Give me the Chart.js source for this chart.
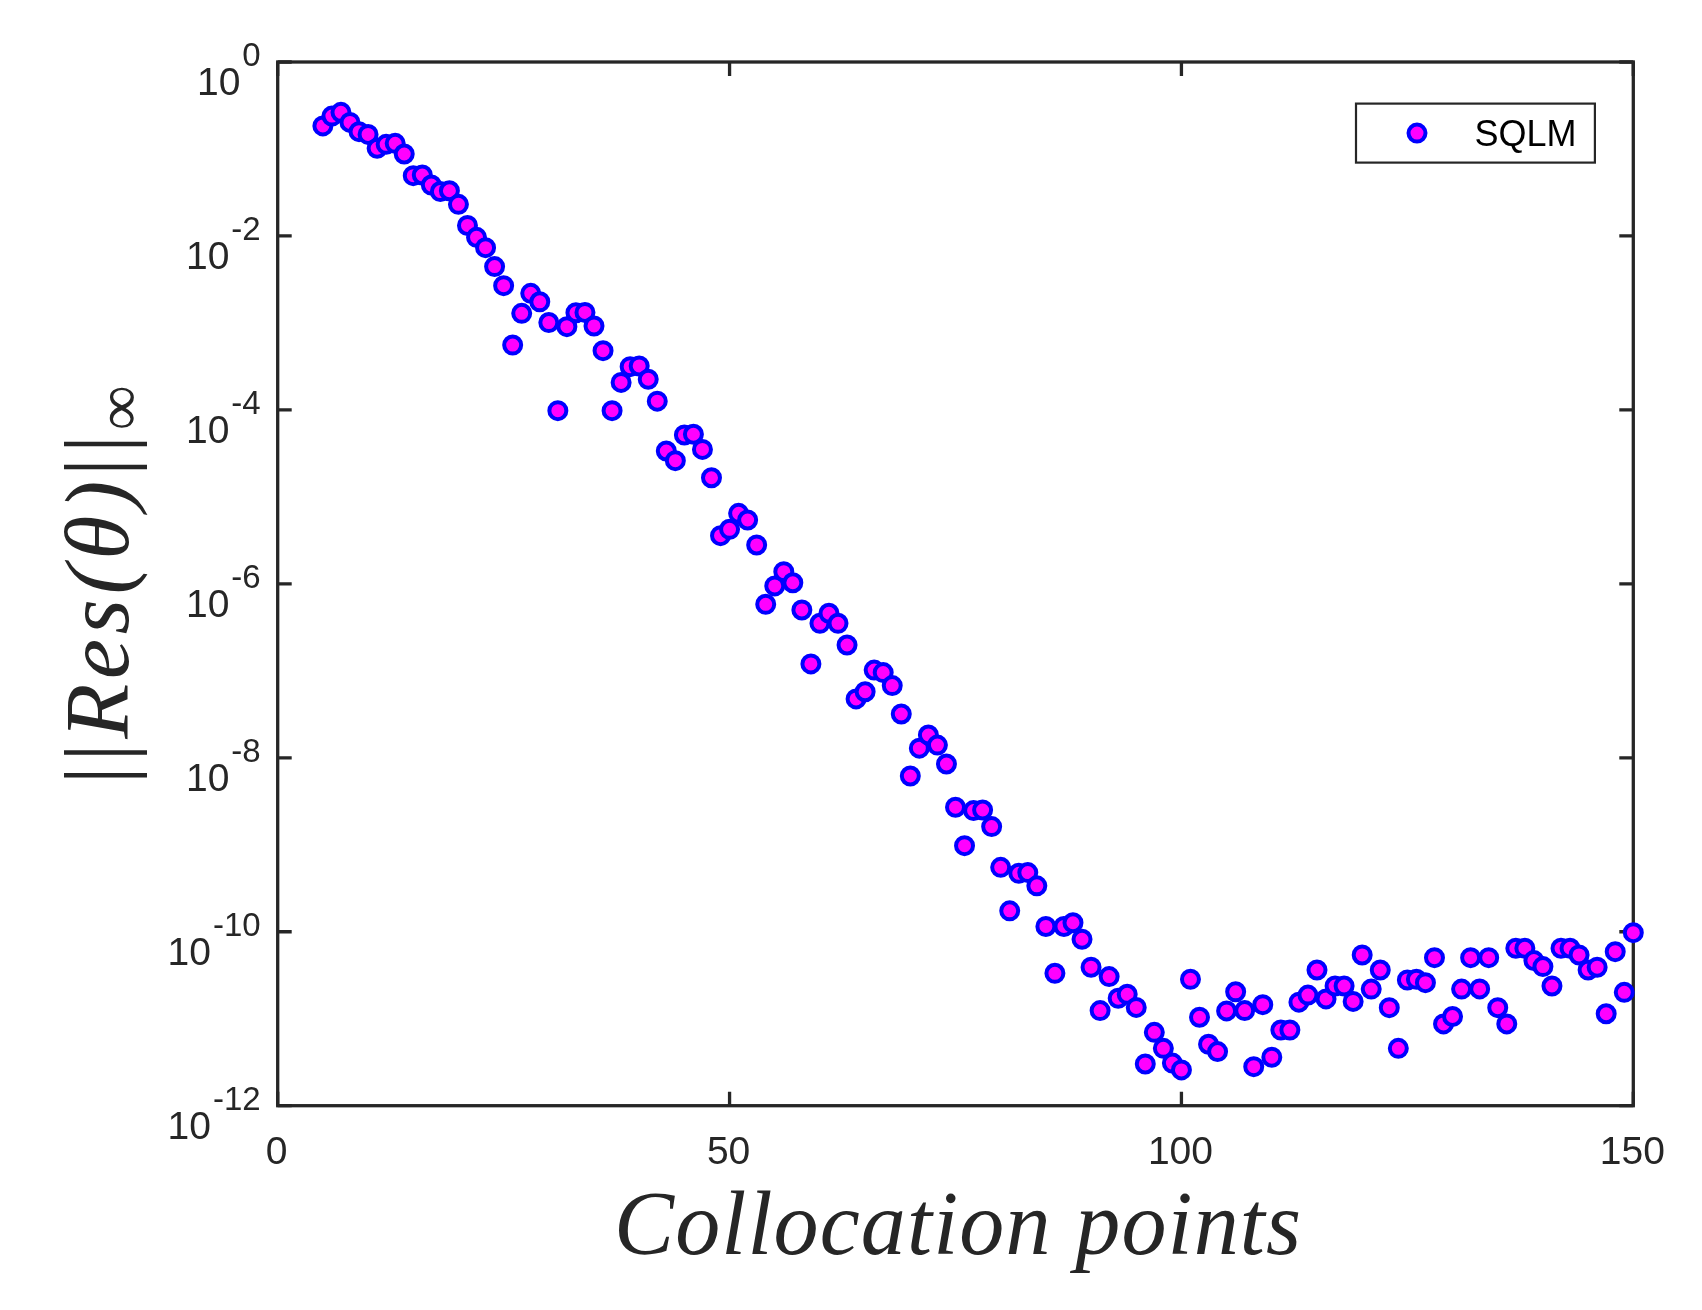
<!DOCTYPE html>
<html><head><meta charset="utf-8">
<script src="https://cdn.jsdelivr.net/npm/chart.js@4"></script>
<style>html,body{margin:0;padding:0;background:#fff;}canvas{display:block;}</style>
</head><body>
<canvas id="c" width="1702" height="1310" style="width:1702px;height:1310px"></canvas>
<script>
// ---------- data ----------
const collocationPoints = [
  5,6,7,8,9,10,11,12,13,14,15,16,17,18,19,20,21,22,23,24,25,26,27,28,29,30,
  31,32,33,34,35,36,37,38,39,40,41,42,43,44,45,46,47,48,49,50,
  51,52,53,54,55,56,57,58,59,60,61,62,63,64,65,66,67,68,69,70,
  71,72,73,74,75,76,77,78,79,80,81,82,83,84,85,86,87,88,89,90,
  91,92,93,94,95,96,97,98,99,100,101,102,103,104,105,106,107,108,109,110,
  111,112,113,114,115,116,117,118,119,120,121,122,123,124,125,126,127,128,129,130,
  131,132,133,134,135,136,137,138,139,140,141,142,143,144,145,146,147,148,149,150
];
const residualSQLM = [
  1.84e-1,2.39e-1,2.64e-1,2.02e-1,1.58e-1,1.47e-1,1.02e-1,1.13e-1,1.16e-1,8.75e-2,
  4.93e-2,5.02e-2,3.85e-2,3.24e-2,3.31e-2,2.31e-2,1.32e-2,9.64e-3,7.33e-3,
  4.44e-3,2.68e-3,5.57e-4,1.29e-3,2.19e-3,1.75e-3,1.01e-3,
  9.8e-5,9.06e-4,1.31e-3,1.32e-3,9.23e-4,4.80e-4,9.8e-5,2.07e-4,3.14e-4,3.20e-4,
  2.25e-4,1.26e-4,3.37e-5,2.61e-5,5.15e-5,5.25e-5,3.51e-5,1.66e-5,3.58e-6,4.24e-6,
  6.47e-6,5.42e-6,2.80e-6,5.82e-7,9.46e-7,1.38e-6,1.03e-6,5.01e-7,1.20e-7,3.52e-7,
  4.59e-7,3.52e-7,1.98e-7,4.75e-8,5.75e-8,1.02e-7,9.55e-8,6.76e-8,3.19e-8,6.18e-9,
  1.29e-8,1.83e-8,1.40e-8,8.49e-9,2.70e-9,9.77e-10,2.47e-9,2.51e-9,1.62e-9,5.50e-10,
  1.74e-10,4.70e-10,4.79e-10,3.37e-10,1.15e-10,3.33e-11,1.15e-10,1.27e-10,8.20e-11,3.91e-11,
  1.24e-11,3.05e-11,1.72e-11,1.91e-11,1.35e-11,3.02e-12,6.98e-12,4.57e-12,3.09e-12,2.58e-12,
  2.84e-11,1.04e-11,5.09e-12,4.19e-12,1.23e-11,2.04e-11,1.24e-11,2.81e-12,1.45e-11,3.61e-12,
  7.41e-12,7.41e-12,1.55e-11,1.87e-11,3.63e-11,1.69e-11,2.38e-11,2.38e-11,1.58e-11,5.41e-11,
  2.19e-11,3.63e-11,1.34e-11,4.57e-12,2.79e-11,2.84e-11,2.60e-11,5.04e-11,8.71e-12,1.06e-11,
  2.19e-11,5.04e-11,2.20e-11,5.04e-11,1.34e-11,8.71e-12,6.46e-11,6.46e-11,4.66e-11,3.98e-11,
  2.38e-11,6.46e-11,6.46e-11,5.41e-11,3.63e-11,3.91e-11,1.14e-11,5.90e-11,2.01e-11,9.77e-11
];
const xTicks = [0, 50, 100, 150];
const yTickExponents = [0, -2, -4, -6, -8, -10, -12];
const seriesLabel = 'SQLM';
const xTitle = 'Collocation points';
const yTitleParts = ['||', 'Res(θ)', '||', '∞'];

// ---------- drawing ----------
const AX = '#262626';
const SANS = '"Liberation Sans", Arial, Helvetica, sans-serif';
const SERIF = '"Liberation Serif", "Times New Roman", serif';

function drawSpaced(ctx, chars, startX, target) {
  const nat = chars.reduce((s, c) => s + c.w, 0);
  const sp = (target - nat) / Math.max(1, chars.length - 1);
  let px = startX;
  chars.forEach(c => { ctx.font = c.f; ctx.fillText(c.ch, px, c.dy); px += c.w + sp; });
}

const framePlugin = {
  id: 'matlabFrame',
  beforeDraw(chart) {
    const c = chart.ctx; c.save(); c.fillStyle = '#fff'; c.fillRect(0, 0, chart.width, chart.height); c.restore();
  },
  beforeDatasetsDraw(chart) {
    const { ctx, chartArea: a, scales: { x, y } } = chart;
    ctx.save();
    ctx.strokeStyle = AX; ctx.lineWidth = 3.3;
    ctx.strokeRect(a.left, a.top, a.right - a.left, a.bottom - a.top);
    const TL = 14;
    ctx.beginPath();
    xTicks.forEach(v => {
      const px = x.getPixelForValue(v);
      ctx.moveTo(px, a.bottom); ctx.lineTo(px, a.bottom - TL);
      ctx.moveTo(px, a.top); ctx.lineTo(px, a.top + TL);
    });
    yTickExponents.forEach(e => {
      const py = y.getPixelForValue(Math.pow(10, e));
      ctx.moveTo(a.left, py); ctx.lineTo(a.left + TL, py);
      ctx.moveTo(a.right, py); ctx.lineTo(a.right - TL, py);
    });
    ctx.stroke();

    ctx.fillStyle = AX;
    ctx.textBaseline = 'alphabetic';
    ctx.textAlign = 'center';
    ctx.font = '39px ' + SANS;
    xTicks.forEach(v => ctx.fillText(String(v), x.getPixelForValue(v) - 1, a.bottom + 58.5));

    const rx = a.left - 17;
    yTickExponents.forEach(e => {
      const py = y.getPixelForValue(Math.pow(10, e));
      ctx.textAlign = 'right';
      ctx.font = '33px ' + SANS;
      const s = String(e);
      const w = ctx.measureText(s).width;
      ctx.fillText(s, rx, py + 4.3);
      ctx.font = '39px ' + SANS;
      ctx.fillText('10', rx - w - 2, py + 33);
    });
    ctx.restore();
  },
  afterDraw(chart) {
    const { ctx, chartArea: a } = chart;
    ctx.save();
    ctx.fillStyle = AX;
    ctx.textAlign = 'left';
    ctx.textBaseline = 'alphabetic';

    // x title
    const xf = 'italic 90px ' + SERIF;
    ctx.font = xf;
    const xchars = [...xTitle].map(ch => ({ ch, f: xf, dy: 0, w: ctx.measureText(ch).width }));
    const xTarget = 687;
    ctx.save();
    ctx.translate((a.left + a.right) / 2 + 2 - xTarget / 2, 1254);
    drawSpaced(ctx, xchars, 0, xTarget);
    ctx.restore();

    // y title
    const fonts = ['90px ' + SERIF, 'italic 90px ' + SERIF, '90px ' + SERIF, '63px ' + SERIF];
    const dys = [0, 0, 0, 12];
    const ychars = [];
    yTitleParts.forEach((t, i) => {
      ctx.font = fonts[i];
      for (const ch of t) ychars.push({ ch, f: fonts[i], dy: dys[i], w: ctx.measureText(ch).width });
    });
    const yTarget = 399;
    ctx.save();
    ctx.translate(128, (a.top + a.bottom) / 2 + 1);
    ctx.rotate(-Math.PI / 2);
    drawSpaced(ctx, ychars, -yTarget / 2, yTarget);
    ctx.restore();

    // legend
    const lx = 1356, ly = 103.6, lw = 238.9, lh = 59;
    ctx.fillStyle = '#fff'; ctx.fillRect(lx, ly, lw, lh);
    ctx.strokeStyle = AX; ctx.lineWidth = 2.2; ctx.strokeRect(lx, ly, lw, lh);
    const ds = chart.data.datasets[0];
    ctx.beginPath();
    ctx.arc(lx + 61, ly + 29.5, ds.pointRadius, 0, 2 * Math.PI);
    ctx.fillStyle = ds.backgroundColor; ctx.fill();
    ctx.lineWidth = ds.borderWidth; ctx.strokeStyle = ds.borderColor; ctx.stroke();
    ctx.fillStyle = '#000';
    ctx.font = '36px ' + SANS;
    ctx.fillText(ds.label, lx + 118.5, ly + 42.5);
    ctx.restore();
  }
};

const points = collocationPoints.map((xv, i) => ({ x: xv, y: residualSQLM[i] }));

new Chart(document.getElementById('c'), {
  type: 'scatter',
  data: {
    datasets: [{
      label: seriesLabel,
      data: points,
      pointRadius: 8.5,
      pointHoverRadius: 8.5,
      borderWidth: 4,
      backgroundColor: '#FF00FF',
      borderColor: '#0000FF',
      showLine: false,
      clip: false
    }]
  },
  options: {
    responsive: false,
    devicePixelRatio: 1,
    animation: false,
    events: [],
    layout: { padding: { left: 277.7, right: 68.7, top: 62, bottom: 204.3 } },
    plugins: { legend: { display: false }, tooltip: { enabled: false } },
    scales: {
      x: {
        type: 'linear', min: 0, max: 150,
        ticks: { display: false }, grid: { display: false }, border: { display: false },
        afterFit: s => { s.height = 0; }
      },
      y: {
        type: 'logarithmic', min: 1e-12, max: 1,
        ticks: { display: false }, grid: { display: false }, border: { display: false },
        afterFit: s => { s.width = 0; }
      }
    }
  },
  plugins: [framePlugin]
});
</script>
</body></html>
